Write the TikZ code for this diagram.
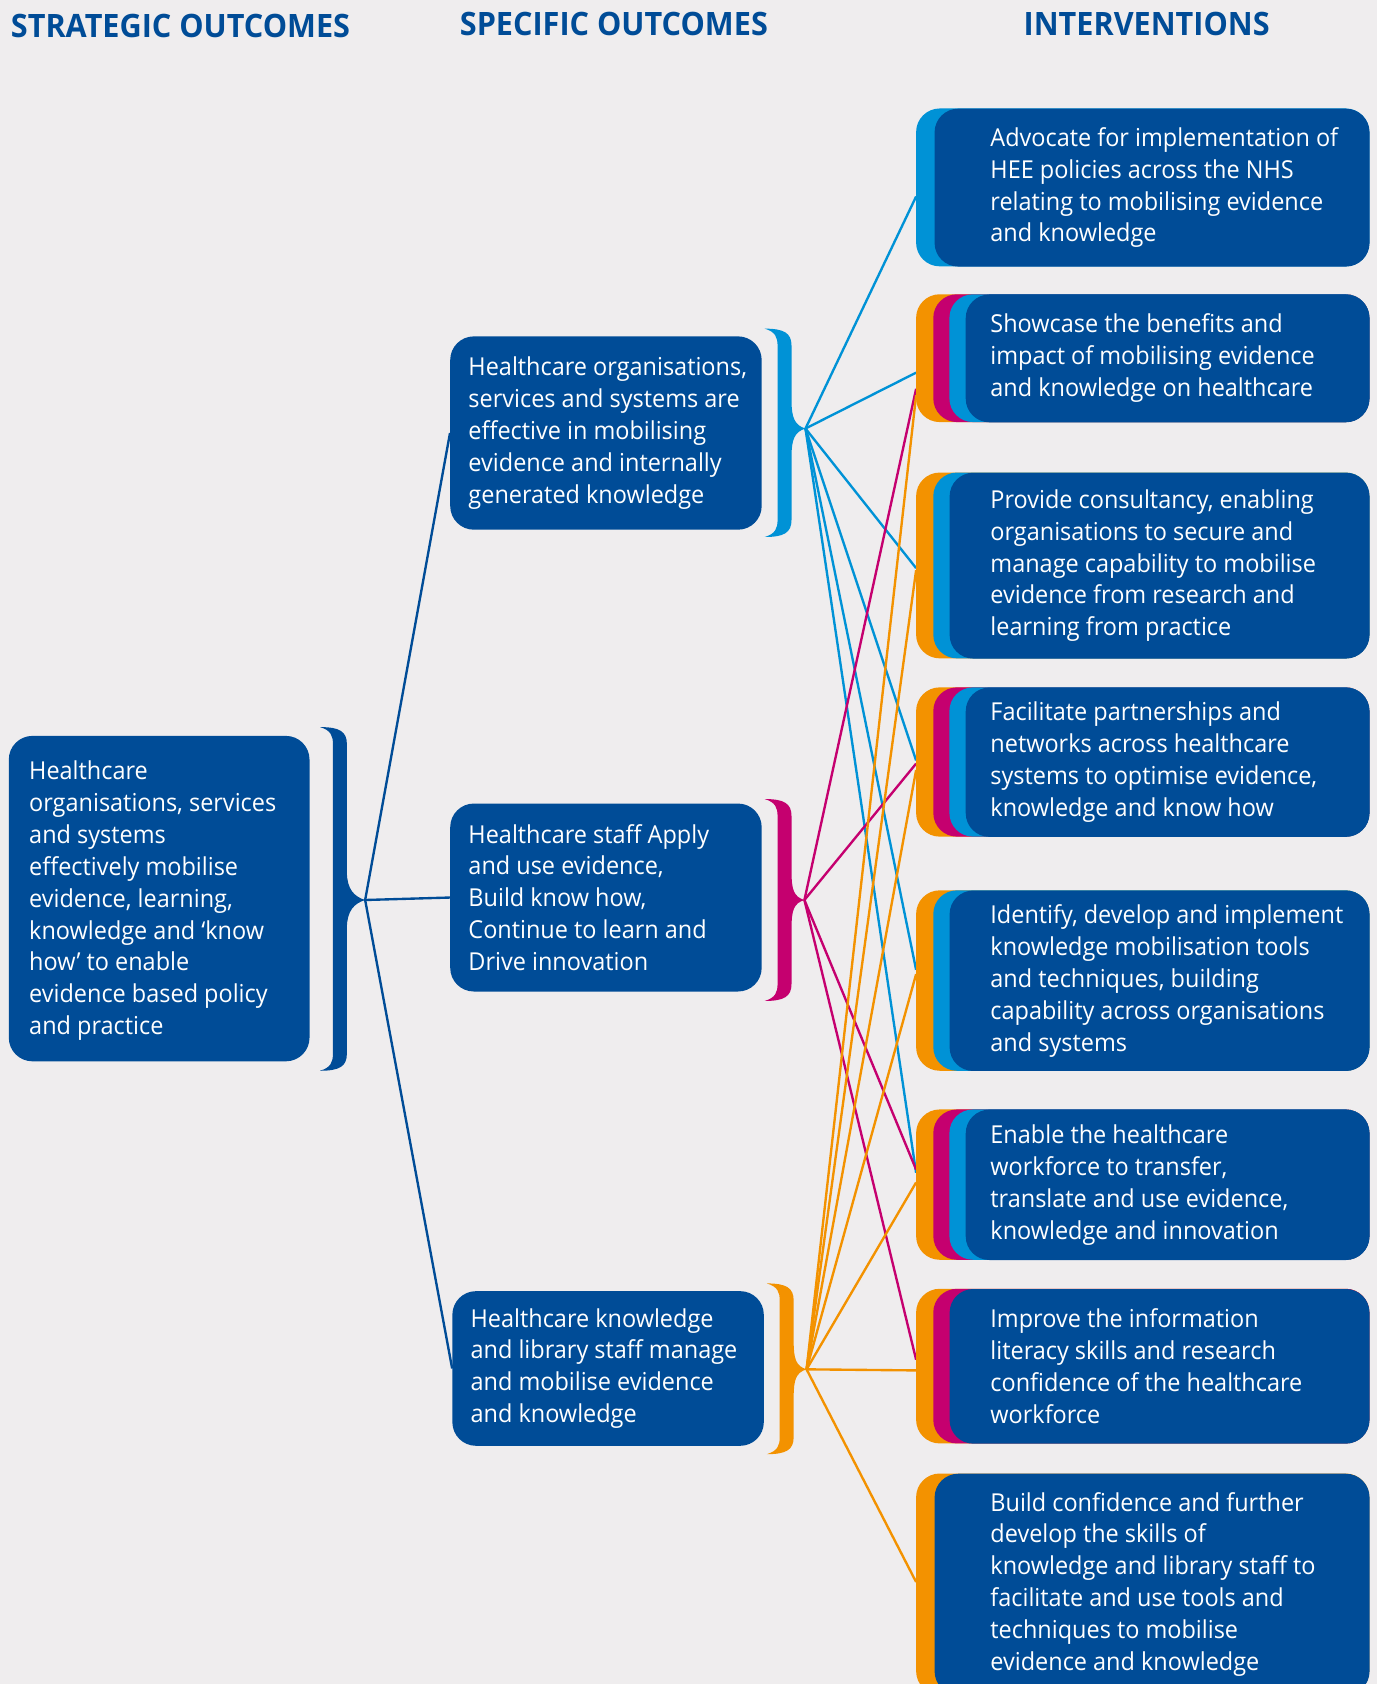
\documentclass[tikz,border=0pt]{standalone}
\usepackage{fontspec}
\setmainfont{Open Sans}[FakeStretch=0.95]
\usetikzlibrary{calc}
\definecolor{hee}{RGB}{0,76,151}
\definecolor{sky}{RGB}{0,146,214}
\definecolor{pink}{RGB}{197,0,111}
\definecolor{amber}{RGB}{243,146,0}
\definecolor{paper}{RGB}{239,237,238}

\begin{document}
\begin{tikzpicture}[x=1pt,y=-1pt,
  box/.style={fill=hee, rounded corners=22pt, inner sep=0pt, anchor=north west},
  txt/.style={text=white, align=left, anchor=west, inner sep=0pt, font=\fontsize{23}{29.7}\selectfont},
  head/.style={text=hee, anchor=west, inner sep=0pt, font=\fontsize{30}{32}\selectfont\bfseries},
  link/.style={line width=2.2pt}]
\useasboundingbox[fill=paper] (0,0) rectangle (1282,1568);

% column titles
\node[head] (t1) at (10,24) {STRATEGIC OUTCOMES};
\node[head] (t2) at (428,22) {SPECIFIC OUTCOMES};
\node[head] (t3) at (953,22) {INTERVENTIONS};

% brackets
\foreach \xl/\yt/\yb/\xp/\ym/\c in {310/677/997/340/838/hee, 724/306/500/750/399/sky,
    724/744/932/749/838/pink, 726/1195/1354/751/1275/amber}
  \fill[\c] ({\xl-12},\yt) .. controls ({\xl+6},\yt) and ({\xl+13},{\yt+4}) .. ({\xl+13},{\yt+16})
    -- ({\xl+13},{\ym-26}) .. controls ({\xl+13},{\ym-10}) and ({\xp-10},{\ym-3}) .. (\xp,\ym)
    .. controls ({\xp-10},{\ym+3}) and ({\xl+13},{\ym+10}) .. ({\xl+13},{\ym+26})
    -- ({\xl+13},{\yb-16}) .. controls ({\xl+13},{\yb-4}) and ({\xl+6},\yb) .. ({\xl-12},\yb)
    .. controls ({\xl-2},{\yb-3}) and (\xl,{\yb-8}) .. (\xl,{\yb-16})
    -- (\xl,{\yt+16}) .. controls (\xl,{\yt+8}) and ({\xl-2},{\yt+3}) .. cycle;
\coordinate (b0) at (340,838);
\coordinate (b1) at (750,399);
\coordinate (b2) at (749,838);
\coordinate (b3) at (751,1275);

% ends of the links on the interventions
\foreach \n/\y in {i1/183, i2/347, i3/529, i4/708, i5/903, i6/1092}
  \coordinate (\n-sky) at (853,\y);
\foreach \n/\y in {i2/362, i4/711, i6/1089, i7/1266}
  \coordinate (\n-pink) at (853,\y);
\foreach \n/\y in {i2/368, i3/531, i4/717, i5/907, i6/1101, i7/1276, i8/1473}
  \coordinate (\n-amber) at (853,\y);

\foreach \t in {i1,i2,i3,i4,i5,i6}
  \draw[link,sky] (b1) -- (\t-sky);
\foreach \t in {i2,i4,i6,i7}
  \draw[link,pink] (b2) -- (\t-pink);
\foreach \t in {i2,i3,i4,i5,i6,i7,i8}
  \draw[link,amber] (b3) -- (\t-amber);

% interventions
\fill[sky, rounded corners=22pt] (853,101) rectangle (1275,248);
\node[box, minimum width=405pt, minimum height=147pt] (i1) at (870,101) {};
\node[txt] (i1-t) at ([xshift=52pt]i1.west)
  {Advocate for implementation of\\HEE policies across the NHS\\relating to mobilising evidence\\and knowledge};

\foreach \c/\x in {amber/853, pink/869, sky/884}
  \fill[\c, rounded corners=22pt] (\x,274) rectangle (1275,393);
\node[box, minimum width=376pt, minimum height=119pt] (i2) at (899,274) {};
\node[txt] (i2-t) at ([xshift=23pt]i2.west)
  {Showcase the benefits and\\impact of mobilising evidence\\and knowledge on healthcare};

\foreach \c/\x in {amber/853, sky/869}
  \fill[\c, rounded corners=22pt] (\x,440) rectangle (1275,613);
\node[box, minimum width=391pt, minimum height=173pt] (i3) at (884,440) {};
\node[txt] (i3-t) at ([xshift=38pt]i3.west)
  {Provide consultancy, enabling\\organisations to secure and\\manage capability to mobilise\\evidence from research and\\learning from practice};

\foreach \c/\x in {amber/853, pink/869, sky/884}
  \fill[\c, rounded corners=22pt] (\x,640) rectangle (1275,779);
\node[box, minimum width=376pt, minimum height=139pt] (i4) at (899,640) {};
\node[txt] (i4-t) at ([xshift=23pt]i4.west)
  {Facilitate partnerships and\\networks across healthcare\\systems to optimise evidence,\\knowledge and know how};

\foreach \c/\x in {amber/853, sky/869}
  \fill[\c, rounded corners=22pt] (\x,829) rectangle (1275,997);
\node[box, minimum width=391pt, minimum height=168pt] (i5) at (884,829) {};
\node[txt] (i5-t) at ([xshift=38pt]i5.west)
  {Identify, develop and implement\\knowledge mobilisation tools\\and techniques, building\\capability across organisations\\and systems};

\foreach \c/\x in {amber/853, pink/869, sky/884}
  \fill[\c, rounded corners=22pt] (\x,1033) rectangle (1275,1173);
\node[box, minimum width=376pt, minimum height=140pt] (i6) at (899,1033) {};
\node[txt] (i6-t) at ([xshift=23pt]i6.west)
  {Enable the healthcare\\workforce to transfer,\\translate and use evidence,\\knowledge and innovation};

\foreach \c/\x in {amber/853, pink/869}
  \fill[\c, rounded corners=22pt] (\x,1200) rectangle (1275,1344);
\node[box, minimum width=391pt, minimum height=144pt] (i7) at (884,1200) {};
\node[txt] (i7-t) at ([xshift=38pt]i7.west)
  {Improve the information\\literacy skills and research\\confidence of the healthcare\\workforce};

\fill[amber, rounded corners=22pt] (853,1372) rectangle (1275,1578);
\node[box, minimum width=405pt, minimum height=206pt] (i8) at (870,1372) {};
\node[txt] (i8-t) at ([xshift=52pt]i8.west)
  {Build confidence and further\\develop the skills of\\knowledge and library staff to\\facilitate and use tools and\\techniques to mobilise\\evidence and knowledge};

% specific outcomes
\node[box, minimum width=290pt, minimum height=180pt] (s1) at (419,313) {};
\node[txt] (s1-t) at ([xshift=17pt]s1.west)
  {Healthcare organisations,\\services and systems are\\effective in mobilising\\evidence and internally\\generated knowledge};
\node[box, minimum width=290pt, minimum height=175pt] (s2) at (419,748) {};
\node[txt] (s2-t) at ([xshift=17pt]s2.west)
  {Healthcare staff Apply\\and use evidence,\\Build know how,\\Continue to learn and\\Drive innovation};
\node[box, minimum width=290pt, minimum height=144pt] (s3) at (421,1202) {};
\node[txt] (s3-t) at ([xshift=17pt]s3.west)
  {Healthcare knowledge\\and library staff manage\\and mobilise evidence\\and knowledge};

% strategic outcome
\node[box, minimum width=280pt, minimum height=303pt] (o) at (8,685) {};
\node[txt] (o-t) at ([xshift=19pt,yshift=-2pt]o.west)
  {Healthcare\\organisations, services\\and systems\\effectively mobilise\\evidence, learning,\\knowledge and ‘know\\how’ to enable\\evidence based policy\\and practice};

\foreach \t in {s1,s2,s3}
  \draw[link,hee] (b0) -- (\t.west);
\end{tikzpicture}
\end{document}
